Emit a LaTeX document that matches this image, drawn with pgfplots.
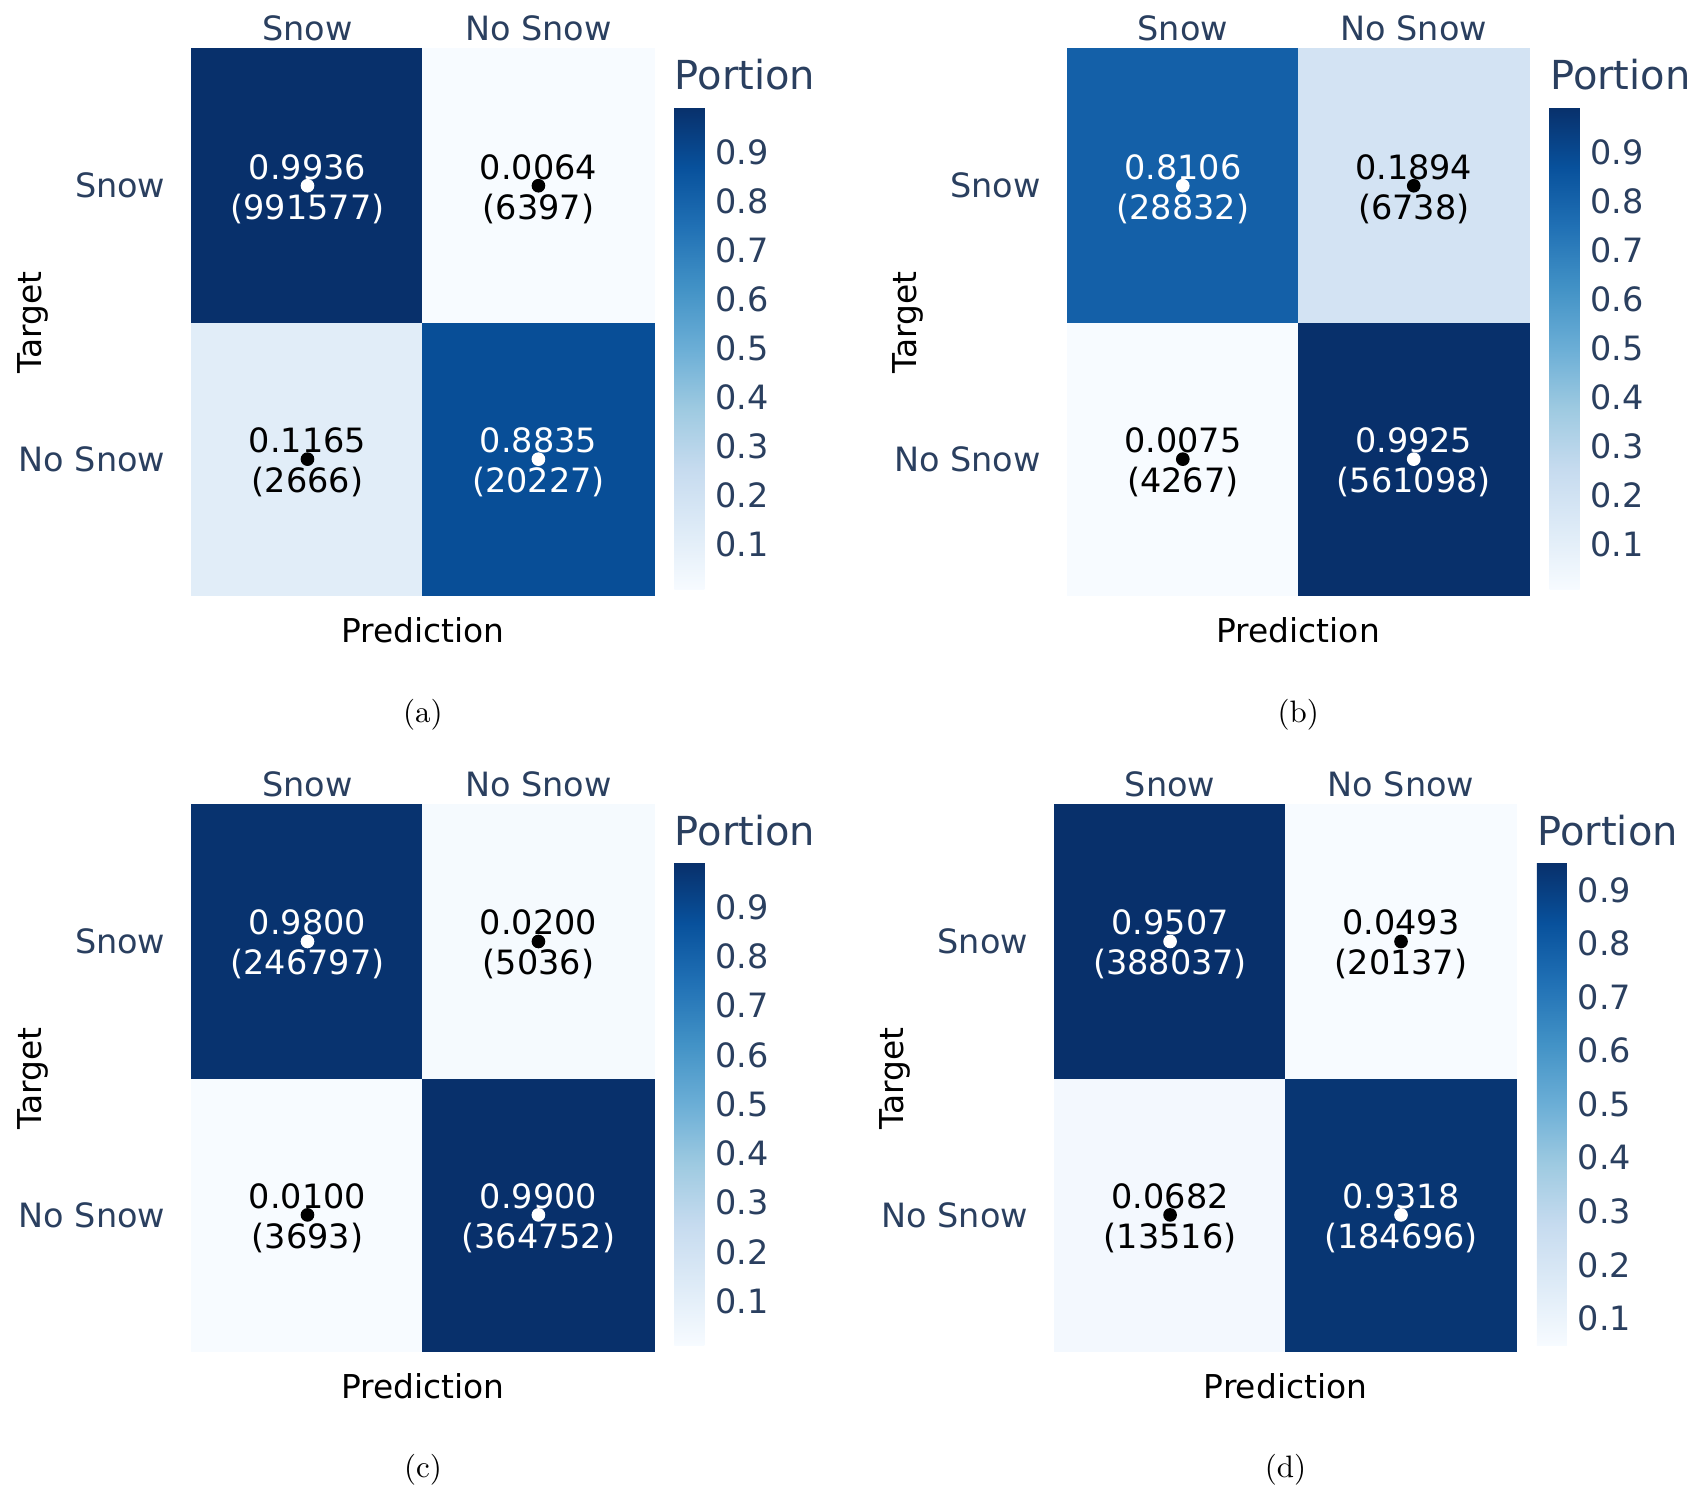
\documentclass[border=0pt]{standalone}
\usepackage{fontspec}
\usepackage{pgfplots}
\usepackage{pgfplotstable}
\pgfplotsset{compat=1.18}
\newfontfamily\dv{DejaVu Sans}
\newcommand\tickfont{\dv\fontsize{10.8}{13}\selectfont}
\newcommand\cellfont{\dv\fontsize{10.8}{12.9}\selectfont}
\newcommand\titlefont{\dv\fontsize{10.6}{12.5}\selectfont}
\newcommand\portfont{\dv\fontsize{12.9}{15}\selectfont}
\definecolor{tickcol}{RGB}{42,63,95}
\pgfplotsset{colormap={blues}{rgb255=(247,251,255) rgb255=(222,235,247) rgb255=(198,219,239) rgb255=(158,202,225) rgb255=(107,174,214) rgb255=(66,146,198) rgb255=(33,113,181) rgb255=(8,81,156) rgb255=(8,48,107)}}

% (a)
\pgfplotstableread{
x y p n
0 0 0.1165 2666
1 0 0.8835 20227
0 1 0.9936 991577
1 1 0.0064 6397
}\tabA
\pgfplotstableread{
x y p n
1 0 0.8835 20227
0 1 0.9936 991577
}\tabAw
\pgfplotstableread{
x y p n
0 0 0.1165 2666
1 1 0.0064 6397
}\tabAb
% (b)
\pgfplotstableread{
x y p n
0 0 0.0075 4267
1 0 0.9925 561098
0 1 0.8106 28832
1 1 0.1894 6738
}\tabB
\pgfplotstableread{
x y p n
1 0 0.9925 561098
0 1 0.8106 28832
}\tabBw
\pgfplotstableread{
x y p n
0 0 0.0075 4267
1 1 0.1894 6738
}\tabBb
% (c)
\pgfplotstableread{
x y p n
0 0 0.0100 3693
1 0 0.9900 364752
0 1 0.9800 246797
1 1 0.0200 5036
}\tabC
\pgfplotstableread{
x y p n
1 0 0.9900 364752
0 1 0.9800 246797
}\tabCw
\pgfplotstableread{
x y p n
0 0 0.0100 3693
1 1 0.0200 5036
}\tabCb
% (d)
\pgfplotstableread{
x y p n
0 0 0.0682 13516
1 0 0.9318 184696
0 1 0.9507 388037
1 1 0.0493 20137
}\tabD
\pgfplotstableread{
x y p n
1 0 0.9318 184696
0 1 0.9507 388037
}\tabDw
\pgfplotstableread{
x y p n
0 0 0.0682 13516
1 1 0.0493 20137
}\tabDb

\newcommand\cnum{\pgfmathprintnumber[fixed,precision=0,1000 sep={},assume math mode=true]{\cnt}}
\pgfplotsset{
  cm/.style={
    scale only axis, width=149.0pt, height=176.4pt,
    anchor=north west,
    clip=false,
    xmin=-0.5, xmax=1.5, ymin=-0.5, ymax=1.5,
    axis line style={draw=none},
    major tick length=0pt,
    tick style={draw=none},
    xtick={0,1}, xticklabels={Snow,No Snow},
    ytick={0,1}, yticklabels={No Snow,Snow},
    xticklabel pos=upper,
    xticklabel style={anchor=south, yshift=2.3pt, inner sep=0pt, font=\tickfont, text=tickcol},
    yticklabel style={anchor=east, xshift=-8.4pt, inner sep=0pt, font=\tickfont, text=tickcol},
    xlabel={Prediction}, ylabel={Target},
    xlabel style={at={(axis description cs:0.5,-0.0638)}, anchor=center, font=\titlefont},
    ylabel style={at={(axis description cs:-0.345,0.5)}, anchor=center, font=\titlefont},
    colormap name=blues,
    colorbar,
    colorbar shift/.style={xshift=6.6pt},
    colorbar style={
      at={(parent axis.north east)}, anchor=north west,
      yshift=-18.7pt,
      width=9.68pt, height=155.8pt,
      axis line style={draw=none},
      major tick length=0pt,
      tick style={draw=none},
      ytick={0.1,0.2,0.3,0.4,0.5,0.6,0.7,0.8,0.9},
      yticklabels={0.1,0.2,0.3,0.4,0.5,0.6,0.7,0.8,0.9},
      yticklabel style={font=\tickfont, text=tickcol},
      title={Portion},
      title style={at={(0,1)}, anchor=base west, yshift=-0.4pt, inner sep=0pt, font=\portfont, text=tickcol},
    },
  },
}

\begin{document}
\begin{tikzpicture}
\path[use as bounding box] (0,0) rectangle (549.68pt,-485.48pt);

\begin{axis}[cm, at={(61.94pt,-15.81pt)}, point meta min=0.0064, point meta max=0.9936]
\addplot[matrix plot*, mesh/cols=2, point meta=explicit] table[x=x,y=y,meta=p] {\tabA};
\addplot[only marks, mark=*, white, mark options={draw=none, fill=none}, point meta=explicit symbolic, visualization depends on={\thisrow{n}\as\cnt}, nodes near coords={\pgfplotspointmeta\\(\cnum)}, every node near coord/.append style={font=\cellfont, align=center, anchor=center, inner sep=0pt, yshift=-1pt}] table[x=x,y=y,meta=p] {\tabAw};
\addplot[only marks, mark=*, black, mark options={draw=none, fill=none}, point meta=explicit symbolic, visualization depends on={\thisrow{n}\as\cnt}, nodes near coords={\pgfplotspointmeta\\(\cnum)}, every node near coord/.append style={font=\cellfont, align=center, anchor=center, inner sep=0pt, yshift=-1pt}] table[x=x,y=y,meta=p] {\tabAb};
\node[font=\fontsize{10}{12}\selectfont] at (axis description cs:0.5,-0.2168) {(a)};
\end{axis}

\begin{axis}[cm, at={(344.3pt,-15.81pt)}, point meta min=0.0075, point meta max=0.9925]
\addplot[matrix plot*, mesh/cols=2, point meta=explicit] table[x=x,y=y,meta=p] {\tabB};
\addplot[only marks, mark=*, white, mark options={draw=none, fill=none}, point meta=explicit symbolic, visualization depends on={\thisrow{n}\as\cnt}, nodes near coords={\pgfplotspointmeta\\(\cnum)}, every node near coord/.append style={font=\cellfont, align=center, anchor=center, inner sep=0pt, yshift=-1pt}] table[x=x,y=y,meta=p] {\tabBw};
\addplot[only marks, mark=*, black, mark options={draw=none, fill=none}, point meta=explicit symbolic, visualization depends on={\thisrow{n}\as\cnt}, nodes near coords={\pgfplotspointmeta\\(\cnum)}, every node near coord/.append style={font=\cellfont, align=center, anchor=center, inner sep=0pt, yshift=-1pt}] table[x=x,y=y,meta=p] {\tabBb};
\node[font=\fontsize{10}{12}\selectfont] at (axis description cs:0.5,-0.2168) {(b)};
\end{axis}

\begin{axis}[cm, at={(61.94pt,-259.6pt)}, point meta min=0.01, point meta max=0.99]
\addplot[matrix plot*, mesh/cols=2, point meta=explicit] table[x=x,y=y,meta=p] {\tabC};
\addplot[only marks, mark=*, white, mark options={draw=none, fill=none}, point meta=explicit symbolic, visualization depends on={\thisrow{n}\as\cnt}, nodes near coords={\pgfplotspointmeta\\(\cnum)}, every node near coord/.append style={font=\cellfont, align=center, anchor=center, inner sep=0pt, yshift=-1pt}] table[x=x,y=y,meta=p] {\tabCw};
\addplot[only marks, mark=*, black, mark options={draw=none, fill=none}, point meta=explicit symbolic, visualization depends on={\thisrow{n}\as\cnt}, nodes near coords={\pgfplotspointmeta\\(\cnum)}, every node near coord/.append style={font=\cellfont, align=center, anchor=center, inner sep=0pt, yshift=-1pt}] table[x=x,y=y,meta=p] {\tabCb};
\node[font=\fontsize{10}{12}\selectfont] at (axis description cs:0.5,-0.2168) {(c)};
\end{axis}

\begin{axis}[cm, at={(340.2pt,-259.6pt)}, point meta min=0.0493, point meta max=0.9507]
\addplot[matrix plot*, mesh/cols=2, point meta=explicit] table[x=x,y=y,meta=p] {\tabD};
\addplot[only marks, mark=*, white, mark options={draw=none, fill=none}, point meta=explicit symbolic, visualization depends on={\thisrow{n}\as\cnt}, nodes near coords={\pgfplotspointmeta\\(\cnum)}, every node near coord/.append style={font=\cellfont, align=center, anchor=center, inner sep=0pt, yshift=-1pt}] table[x=x,y=y,meta=p] {\tabDw};
\addplot[only marks, mark=*, black, mark options={draw=none, fill=none}, point meta=explicit symbolic, visualization depends on={\thisrow{n}\as\cnt}, nodes near coords={\pgfplotspointmeta\\(\cnum)}, every node near coord/.append style={font=\cellfont, align=center, anchor=center, inner sep=0pt, yshift=-1pt}] table[x=x,y=y,meta=p] {\tabDb};
\node[font=\fontsize{10}{12}\selectfont] at (axis description cs:0.5,-0.2168) {(d)};
\end{axis}
\end{tikzpicture}
\end{document}
